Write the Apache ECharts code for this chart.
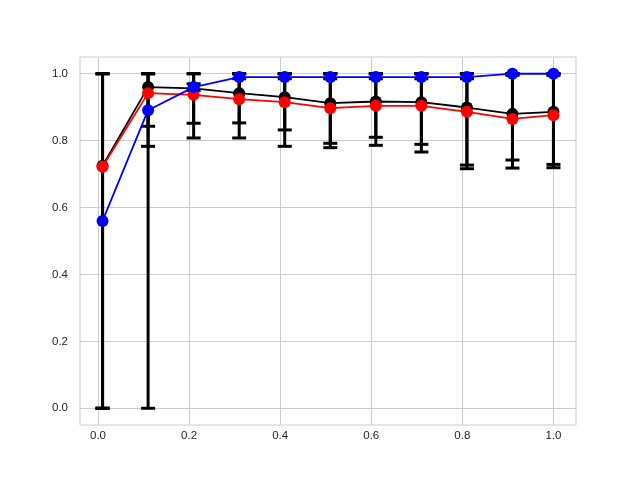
<!DOCTYPE html>
<html>
<head>
<meta charset="utf-8">
<script src="https://cdn.jsdelivr.net/npm/echarts@6/dist/echarts.min.js"></script>
<style>html,body{margin:0;padding:0;background:#fff}#c{width:640px;height:478px}</style>
</head>
<body>
<div id="c"></div>
<script>
var xs = [0.01, 0.11, 0.21, 0.31, 0.41, 0.51, 0.61, 0.71, 0.81, 0.91, 1.0];
var blackVals = [0.725, 0.960, 0.956, 0.942, 0.930, 0.912, 0.917, 0.915, 0.899, 0.880, 0.886];
var redVals   = [0.722, 0.942, 0.937, 0.924, 0.915, 0.897, 0.904, 0.904, 0.886, 0.865, 0.876];
var blueVals  = [0.560, 0.891, 0.960, 0.990, 0.990, 0.990, 0.990, 0.990, 0.990, 1.000, 1.000];
var blackLow  = [0.0, 0.843, 0.852, 0.853, 0.832, 0.792, 0.810, 0.789, 0.727, 0.742, 0.729];
var blackHigh = [1.0, 1.0, 1.0, 1.0, 1.0, 1.0, 1.0, 1.0, 1.0, 1.0, 1.0];
var redLow    = [0.0, 0.783, 0.808, 0.808, 0.783, 0.779, 0.786, 0.766, 0.716, 0.718, 0.719];
var redHigh   = [1.0, 1.0, 1.0, 1.0, 1.0, 1.0, 1.0, 1.0, 1.0, 1.0, 1.0];
var blueLow   = [0.0, 0.0, 0.95, 0.985, 0.985, 0.985, 0.985, 0.985, 0.985, 0.995, 0.995];
var blueHigh  = [1.0, 1.0, 0.97, 1.0, 1.0, 1.0, 1.0, 1.0, 1.0, 1.0, 1.0];
var xTicks = [0.0, 0.2, 0.4, 0.6, 0.8, 1.0];
var yTicks = [0.0, 0.2, 0.4, 0.6, 0.8, 1.0];

function pairs(vals) { return xs.map(function (x, i) { return [x, vals[i]]; }); }
function errData(lo, hi) { return xs.map(function (x, i) { return [x, lo[i], hi[i]]; }); }

function renderErr(params, api) {
  var x = api.value(0);
  var lo = api.coord([x, api.value(1)]);
  var hi = api.coord([x, api.value(2)]);
  var hw = 7;
  var st = { stroke: '#000', lineWidth: 3 };
  return {
    type: 'group',
    children: [
      { type: 'line', shape: { x1: lo[0], y1: lo[1], x2: hi[0], y2: hi[1] }, style: st },
      { type: 'line', shape: { x1: lo[0] - hw, y1: lo[1], x2: lo[0] + hw, y2: lo[1] }, style: st },
      { type: 'line', shape: { x1: hi[0] - hw, y1: hi[1], x2: hi[0] + hw, y2: hi[1] }, style: st }
    ]
  };
}

function errSeries(lo, hi) {
  return {
    type: 'custom', renderItem: renderErr, data: errData(lo, hi),
    encode: { x: 0, y: [1, 2] }, z: 1, silent: true, clip: false
  };
}

function lineSeries(vals, color, z) {
  return {
    type: 'line', data: pairs(vals), symbol: 'circle', symbolSize: 12,
    lineStyle: { color: color, width: 1.8 }, itemStyle: { color: color },
    z: z, silent: true, animation: false
  };
}

var labelStyle = { color: '#262626', fontSize: 11.5, fontFamily: 'Liberation Sans, Arial, sans-serif' };

var chart = echarts.init(document.getElementById('c'), null, { renderer: 'canvas' });
chart.setOption({
  animation: false,
  backgroundColor: '#ffffff',
  grid: { left: 80, right: 64, top: 57, bottom: 53, show: true, borderColor: '#cccccc', borderWidth: 1, containLabel: false },
  xAxis: {
    type: 'value', min: -0.0395, max: 1.0495,
    axisLine: { show: false },
    axisTick: { show: false, customValues: xTicks },
    axisLabel: Object.assign({ margin: 5, customValues: xTicks, formatter: function (v) { return v.toFixed(1); } }, labelStyle),
    splitLine: { show: true, lineStyle: { color: '#cccccc', width: 1 } }
  },
  yAxis: {
    type: 'value', min: -0.05, max: 1.05,
    axisLine: { show: false },
    axisTick: { show: false, customValues: yTicks },
    axisLabel: Object.assign({ margin: 12, customValues: yTicks, formatter: function (v) { return v.toFixed(1); } }, labelStyle),
    splitLine: { show: true, lineStyle: { color: '#cccccc', width: 1 } }
  },
  series: [
    errSeries(blackLow, blackHigh),
    errSeries(redLow, redHigh),
    errSeries(blueLow, blueHigh),
    lineSeries(blackVals, '#000000', 2),
    lineSeries(redVals, '#ff0000', 3),
    lineSeries(blueVals, '#0000ff', 4)
  ]
});
</script>
</body>
</html>
